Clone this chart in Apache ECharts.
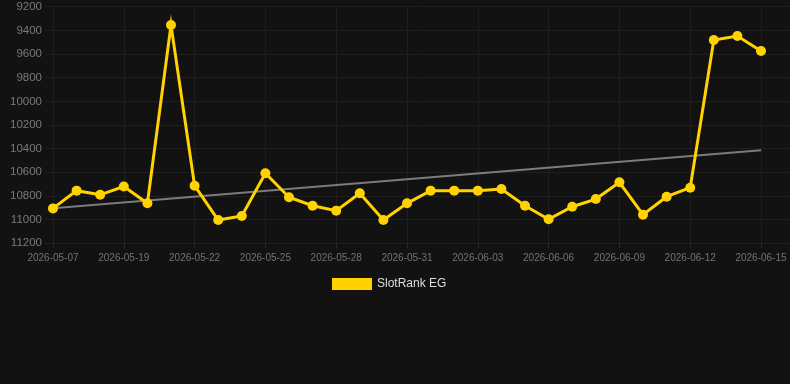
<!DOCTYPE html>
<html>
<head>
<meta charset="utf-8">
<script src="https://cdn.jsdelivr.net/npm/echarts@6/dist/echarts.min.js"></script>
<style>
  html, body { margin: 0; padding: 0; background: #121212; }
  #chart { width: 790px; height: 384px; }
</style>
</head>
<body>
<div id="chart"></div>
<script>
const dates = [
  '2026-05-07','2026-05-11','2026-05-15','2026-05-19','2026-05-20','2026-05-21','2026-05-22',
  '2026-05-23','2026-05-24','2026-05-25','2026-05-26','2026-05-27','2026-05-28','2026-05-29',
  '2026-05-30','2026-05-31','2026-06-01','2026-06-02','2026-06-03','2026-06-04','2026-06-05',
  '2026-06-06','2026-06-07','2026-06-08','2026-06-09','2026-06-10','2026-06-11','2026-06-12',
  '2026-06-13','2026-06-14','2026-06-15'
];
const rankValues = [
  10905, 10755, 10790, 10720, 10862, 9355, 10713,
  11003, 10969, 10608, 10811, 10882, 10924, 10777,
  11003, 10862, 10755, 10755, 10755, 10741, 10882,
  10997, 10891, 10826, 10684, 10958, 10806, 10730,
  9481, 9448, 9574
];
const trendStart = 10904;
const trendEnd = 10414;
const seriesName = 'SlotRank EG';
const yMin = 9200, yMax = 11200, yStep = 200;

const trendData = dates.map((d, i) => i === 0 ? trendStart : (i === dates.length - 1 ? trendEnd : null));

const chart = echarts.init(document.getElementById('chart'), null, { renderer: 'canvas' });
chart.setOption({
  backgroundColor: '#121212',
  animation: false,
  legend: {
    data: [{ name: seriesName, icon: 'rect' }],
    top: 273,
    left: 327,
    itemWidth: 40,
    itemHeight: 12,
    itemGap: 10,
    textStyle: { color: '#dddddd', fontSize: 12, fontFamily: 'Arial, Liberation Sans, sans-serif' }
  },
  grid: [
    { left: 53, right: 29, top: 6.7, bottom: 140.7, containLabel: false },
    { left: 45, right: 0, top: 6.7, bottom: 140.7, containLabel: false }
  ],
  xAxis: [
    {
      type: 'category',
      gridIndex: 0,
      data: dates,
      boundaryGap: false,
      axisLine: { show: false },
      axisTick: { show: true, interval: 2, length: 5, lineStyle: { color: '#2a2a2a' } },
      axisLabel: { interval: 2, color: '#737373', fontSize: 10, margin: 10, fontFamily: 'Arial, Liberation Sans, sans-serif' },
      splitLine: { show: true, interval: 2, lineStyle: { color: '#1e1e1e', width: 1 } }
    },
    {
      type: 'value',
      gridIndex: 1,
      show: false
    }
  ],
  yAxis: [
    {
      type: 'value',
      gridIndex: 0,
      inverse: true,
      min: yMin,
      max: yMax,
      interval: yStep,
      axisLine: { show: false },
      axisTick: { show: false },
      axisLabel: { color: '#7a7a7a', fontSize: 11.5, margin: 11, fontFamily: 'Arial, Liberation Sans, sans-serif', formatter: v => String(v) },
      splitLine: { show: false }
    },
    {
      type: 'value',
      gridIndex: 1,
      inverse: true,
      min: yMin,
      max: yMax,
      interval: yStep,
      axisLine: { show: false },
      axisTick: { show: false },
      axisLabel: { show: false },
      splitLine: { show: true, lineStyle: { color: '#1e1e1e', width: 1 } }
    }
  ],
  series: [
    {
      name: 'trend',
      type: 'line',
      xAxisIndex: 0,
      yAxisIndex: 0,
      data: trendData,
      connectNulls: true,
      showSymbol: false,
      symbol: 'none',
      lineStyle: { color: '#7c7c7c', width: 2 },
      silent: true,
      z: 1
    },
    {
      name: seriesName,
      type: 'line',
      xAxisIndex: 0,
      yAxisIndex: 0,
      data: rankValues,
      symbol: 'circle',
      symbolSize: 10,
      showAllSymbol: true,
      itemStyle: { color: '#FFD200' },
      lineStyle: { color: '#FFD200', width: 3, join: 'miter' },
      z: 2
    }
  ]
});
</script>
</body>
</html>
